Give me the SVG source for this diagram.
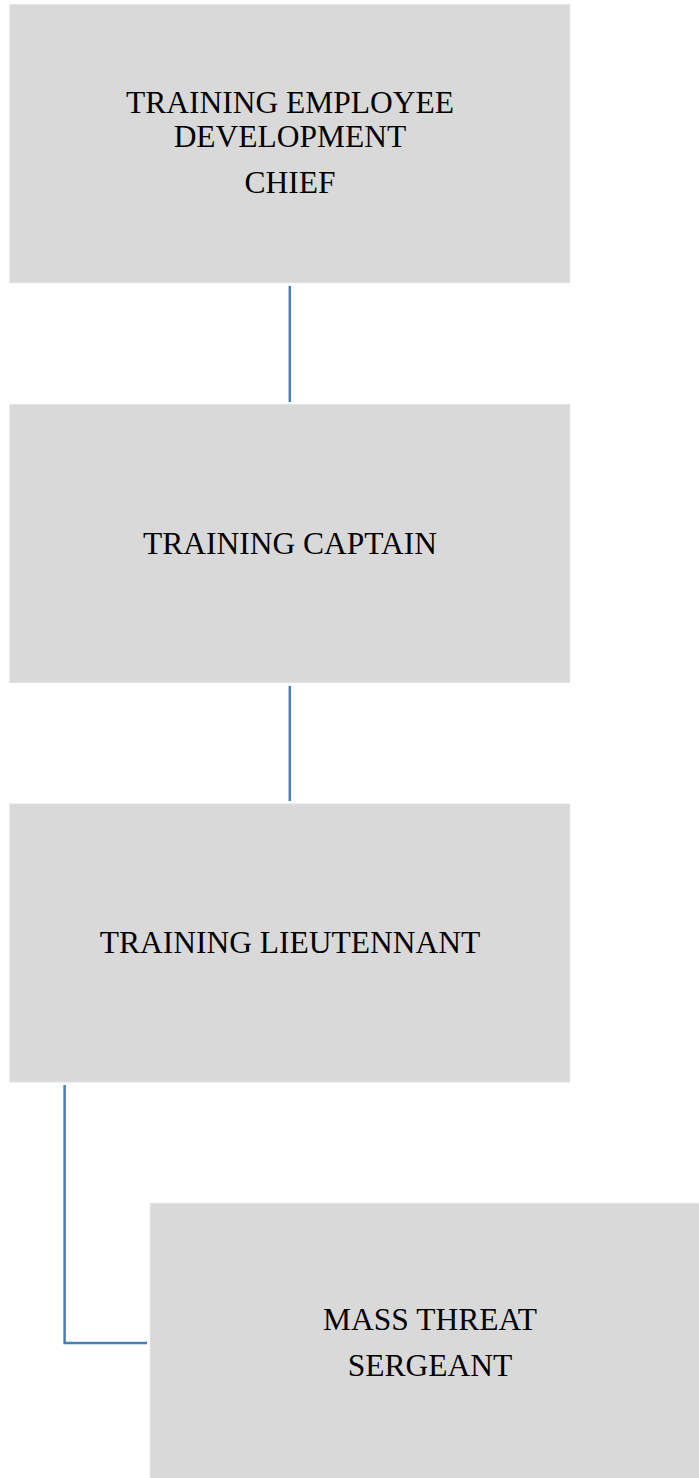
<svg xmlns="http://www.w3.org/2000/svg" width="699" height="1478" viewBox="0 0 699 1478">
<style>
.box{fill:#d9d9d9;stroke:#e2e2e2;stroke-width:1}
.lbl{font-family:"Liberation Serif","Times New Roman",serif;font-size:31.5px;fill:#000;text-anchor:middle}
.conn{fill:none;stroke:#4a7ebb;stroke-width:2.5}
</style>
<rect width="699" height="1478" fill="#fff"/>
<g id="connectors">
<line class="conn" x1="289.8" y1="286" x2="289.8" y2="402"/>
<line class="conn" x1="289.8" y1="686" x2="289.8" y2="801"/>
<polyline class="conn" points="64.6,1085 64.6,1343 147,1343"/>
</g>
<g id="node-chief">
<rect class="box" x="9.8" y="4.7" width="560" height="278"/>
<text class="lbl" x="290" y="113">TRAINING EMPLOYEE</text>
<text class="lbl" x="290" y="147">DEVELOPMENT</text>
<text class="lbl" x="290" y="193">CHIEF</text>
</g>
<g id="node-captain">
<rect class="box" x="9.8" y="404.5" width="560" height="278"/>
<text class="lbl" x="290" y="554">TRAINING CAPTAIN</text>
</g>
<g id="node-lieutenant">
<rect class="box" x="9.8" y="804" width="560" height="278"/>
<text class="lbl" x="290" y="953">TRAINING LIEUTENNANT</text>
</g>
<g id="node-sergeant">
<rect class="box" x="150.2" y="1203.3" width="560" height="278"/>
<text class="lbl" x="430" y="1330">MASS THREAT</text>
<text class="lbl" x="430" y="1376">SERGEANT</text>
</g>
</svg>
